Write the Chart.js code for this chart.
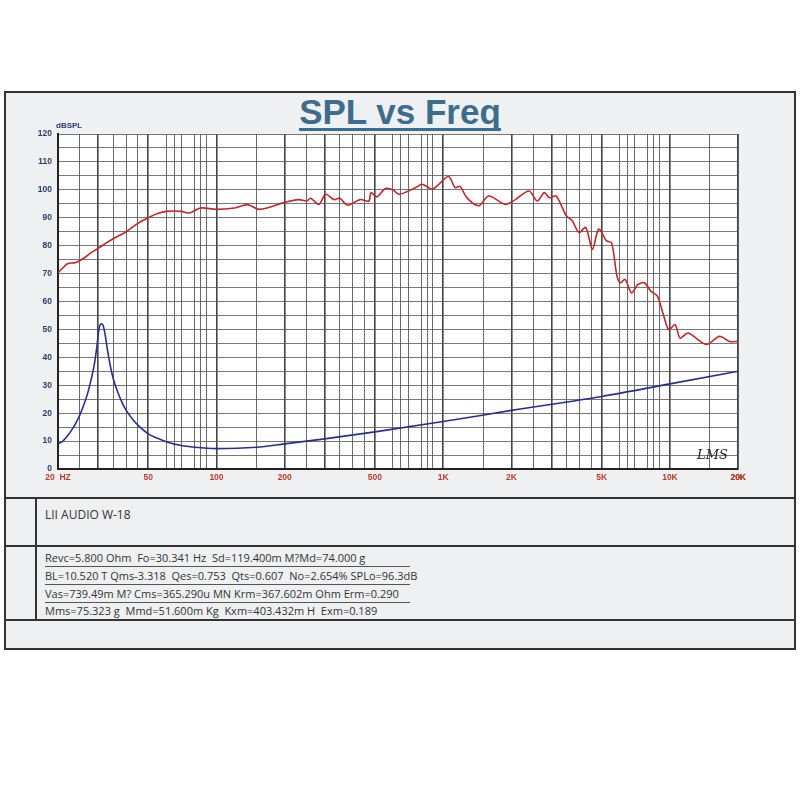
<!DOCTYPE html>
<html><head><meta charset="utf-8">
<script src="https://cdn.jsdelivr.net/npm/chart.js@4"></script>
<style>
body{margin:0;width:800px;height:800px;background:#fff;position:relative;font-family:"Liberation Sans",Arial,sans-serif;}
#frame{position:absolute;left:4px;top:91px;width:788px;height:555px;border:2px solid #333;background:#eef0f1;}
#title{position:absolute;left:0;width:800px;top:92px;text-align:center;font:bold 35px "Liberation Sans",Arial;color:#3d6c8c;}
#title span{border-bottom:3px solid #3d6c8c;line-height:33px;display:inline-block;}
.hl{position:absolute;left:6px;width:788px;background:#333;}
#vd{position:absolute;left:35px;top:498px;width:2px;height:123px;background:#333;}
.t{position:absolute;font:11px "Open Sans","Liberation Sans",sans-serif;color:#333;white-space:nowrap;}
.u{position:absolute;left:45px;width:365px;height:1px;background:#555;}
#c{position:absolute;left:20px;top:120px;}
#db{position:absolute;left:56px;top:121px;font:bold 8px "Liberation Sans",Arial;color:#2b3a6b;}
#lms{position:absolute;left:697px;top:447px;font:italic 13px "DejaVu Serif",serif;color:#222;}
</style></head><body>
<div id="frame"></div>
<div id="title"><span>SPL vs Freq</span></div>
<canvas id="c" width="730" height="370"></canvas>
<div id="db">dBSPL</div>
<div id="lms">LMS</div>
<div class="hl" style="top:497px;height:2px"></div>
<div class="hl" style="top:545px;height:2px"></div>
<div class="hl" style="top:619px;height:2px"></div>
<div id="vd"></div>
<div class="t" style="left:45px;top:506px;font-size:12px">LII AUDIO W-18</div>
<div class="t" style="left:45px;top:550px">Revc=5.800 Ohm&nbsp; Fo=30.341 Hz&nbsp; Sd=119.400m M?Md=74.000 g</div>
<div class="u" style="top:566px"></div>
<div class="t" style="left:45px;top:568px">BL=10.520 T Qms-3.318&nbsp; Qes=0.753&nbsp; Qts=0.607&nbsp; No=2.654% SPLo=96.3dB</div>
<div class="u" style="top:584px"></div>
<div class="t" style="left:45px;top:586px">Vas=739.49m M? Cms=365.290u MN Krm=367.602m Ohm Erm=0.290</div>
<div class="u" style="top:602px"></div>
<div class="t" style="left:45px;top:603px">Mms=75.323 g&nbsp; Mmd=51.600m Kg&nbsp; Kxm=403.432m H&nbsp; Exm=0.189</div>
<script>
const splFreq=[20,21,22,24,26,28,30,32,35,40,45,50,55,60,70,76,85,100,120,137,155,200,230,250,260,283,303,330,350,378,430,470,480,510,556,600,640,757,807,893,940,1055,1128,1187,1270,1432,1588,1880,2090,2390,2600,2790,2940,3150,3490,3710,3970,4250,4550,4850,5260,5530,5840,6040,6340,6770,7230,7720,8240,8800,9400,9880,10540,11080,12030,14460,16560,18280,20000];
const splDb=[70.3,72,73.5,74,75.5,77.5,79,80.5,82.5,85,88,90,91.5,92.3,92.3,91.7,93.5,93,93.5,94.7,93,95.5,96.5,96,97,94.8,98.4,96.5,97,94.5,96.5,96,99,97.5,100.5,100,98.4,100.8,102,100.2,101.4,104.8,100.8,101.2,97.2,94.3,97.8,94.8,96.6,99.6,96,99,97.2,97.8,90.7,88.9,84.7,86.5,78.7,85.9,81.7,81,69.1,66.7,67.9,63.1,66.1,66.7,63.7,61.9,54.7,49.9,51.7,46.9,48.7,44.6,47.5,45.7,45.7];
const impFreq=[20,21,22,23,24,25,26,27,28,29,29.7,30.3,31,31.6,32.3,33,34,35,36.5,38,40,43,46,50,55,60,70,80,100,150,200,300,500,1000,2000,5000,10000,20000];
const impVal=[9,10,11.8,14,16.5,19.5,23,27,32,38,44,50,52,51.5,48,43,37,32.5,28,24.5,21,17.5,15,12.6,11,9.8,8.4,7.8,7.3,7.8,9,10.8,13.3,17,21,26,30.5,35];
const xLabels={20:"20  HZ",50:"50",100:"100",200:"200",500:"500",1000:"1K",2000:"2K",5000:"5K",10000:"10K",20000:"20K"};
const gridMult=[1,1.5,2,2.5,3,3.5,4,4.5,5,6,6.5,7,8,8.5,9];
const gridVals=[];
[10,100,1000,10000].forEach(d=>gridMult.forEach(m=>{const v=Math.round(d*m);if(v>=20&&v<=20000)gridVals.push(v);}));
gridVals.push(20000);
const thick=new Set([20,30,50,100,200,300,500,1000,2000,3000,5000,10000,20000]);
new Chart(document.getElementById('c'),{
type:'line',
data:{datasets:[
{data:splFreq.map((f,i)=>({x:f,y:splDb[i]})),borderColor:'#c0282c',borderWidth:1.6,pointRadius:0,tension:0.3},
{data:impFreq.map((f,i)=>({x:f,y:impVal[i]})),borderColor:'#2a2f8c',borderWidth:1.6,pointRadius:0,cubicInterpolationMode:'monotone'}
]},
options:{responsive:false,animation:false,devicePixelRatio:1,
layout:{padding:{top:14,right:10,left:0,bottom:0}},
plugins:{legend:{display:false},tooltip:{enabled:false}},
scales:{
x:{type:'logarithmic',min:20,max:20000,
afterBuildTicks:s=>{s.ticks=gridVals.map(v=>({value:v}));},
afterFit:s=>{s.height=21;},
grid:{color:'#444',lineWidth:c=>thick.has(c.tick&&c.tick.value)?1.6:0.8,drawTicks:false},
border:{color:'#222',width:2},
ticks:{autoSkip:false,maxRotation:0,padding:4,color:'#c0392b',font:{size:8.5,weight:'bold'},callback:v=>xLabels[v]||''}},
y:{min:0,max:120,
afterBuildTicks:s=>{const t=[];for(let v=0;v<=120;v+=5)t.push({value:v});s.ticks=t;},
afterFit:s=>{s.width=38;},
grid:{color:'#555',lineWidth:0.8,drawTicks:false},
border:{color:'#222',width:2},
ticks:{padding:6,color:'#2b3a6b',font:{size:8.5,weight:'bold'},callback:v=>v%10===0?v:''}}
}},
plugins:[{id:'bg',beforeDraw:ch=>{const a=ch.chartArea,x=ch.ctx;x.save();x.fillStyle='#fff';x.fillRect(a.left,a.top,a.right-a.left,a.bottom-a.top);x.restore();}}]
});
</script>
</body></html>
